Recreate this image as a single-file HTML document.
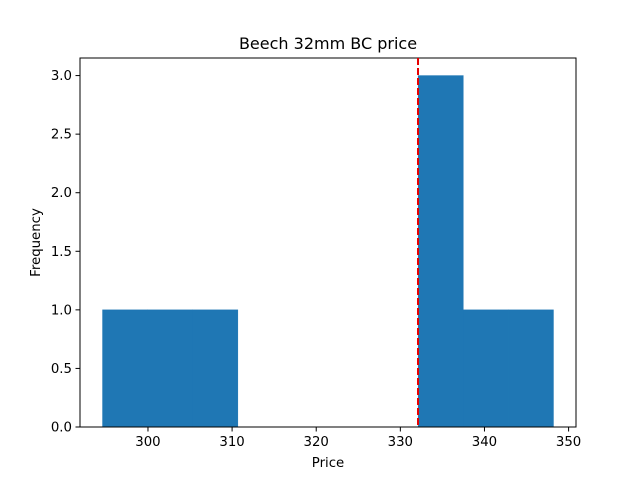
<!DOCTYPE html>
<html><head><meta charset="utf-8"><style>
body{margin:0;background:#fff;}
svg{display:block;font-family:"DejaVu Sans","Liberation Sans",sans-serif;}
</style></head><body>
<svg id="chart" width="640" height="480" viewBox="0 0 640 480">
<rect width="640" height="480" fill="#fff"/>
<text x="328" y="49" text-anchor="middle" font-size="16">Beech 32mm BC price</text>
<g id="bars"></g>
<g id="xt"></g><g id="yt"></g>
<rect x="80" y="58" width="496" height="369" fill="none" stroke="#000" stroke-width="1"/>
<line id="meanline" y1="58" y2="427" stroke="#e60000" stroke-width="2" stroke-dasharray="7,3"/>
<text x="328" y="467" text-anchor="middle" font-size="13.3">Price</text>
<text transform="translate(40,242.5) rotate(-90)" text-anchor="middle" font-size="13.3">Frequency</text>
</svg>
<script>
const binEdges=[294.6,299.96,305.32,310.68,316.04,321.4,326.76,332.12,337.48,342.84,348.2];
const counts=[1,1,1,0,0,0,0,3,1,1];
const xTicks=[300,310,320,330,340,350];
const yTicks=[0,0.5,1.0,1.5,2.0,2.5,3.0];
const meanValue=332.1;
const X0=291.92,X1=350.88,Y1=3.15;
const sx=v=>80+(v-X0)/(X1-X0)*496;
const sy=v=>427-v/Y1*369;
const NS="http://www.w3.org/2000/svg";
const bars=document.getElementById('bars');
counts.forEach((c,i)=>{if(!c)return;
 const r=document.createElementNS(NS,'rect');
 r.setAttribute('x',sx(binEdges[i]));r.setAttribute('width',sx(binEdges[i+1])-sx(binEdges[i]));
 r.setAttribute('y',sy(c));r.setAttribute('height',sy(0)-sy(c));r.setAttribute('fill','#1f77b4');
 r.setAttribute('stroke','#1f77b4');r.setAttribute('stroke-width','0.5');
 
 
 bars.appendChild(r);});
const xt=document.getElementById('xt');
xTicks.forEach(t=>{const x=sx(t);
 const l=document.createElementNS(NS,'line');l.setAttribute('x1',x);l.setAttribute('x2',x);l.setAttribute('y1',427);l.setAttribute('y2',431.5);l.setAttribute('stroke','#000');
 
 
 xt.appendChild(l);
 const tx=document.createElementNS(NS,'text');tx.setAttribute('x',x);tx.setAttribute('y',446);tx.setAttribute('text-anchor','middle');tx.setAttribute('font-size','13.3');tx.textContent=t;
 
 
 xt.appendChild(tx);});
const yt=document.getElementById('yt');
yTicks.forEach(t=>{const y=sy(t);
 const l=document.createElementNS(NS,'line');l.setAttribute('x1',75.5);l.setAttribute('x2',80);l.setAttribute('y1',y);l.setAttribute('y2',y);l.setAttribute('stroke','#000');
 
 
 yt.appendChild(l);
 const tx=document.createElementNS(NS,'text');tx.setAttribute('x',72);tx.setAttribute('y',y+4.5);tx.setAttribute('text-anchor','end');tx.setAttribute('font-size','13.3');tx.textContent=t.toFixed(1);
 
 
 yt.appendChild(tx);});
const m=document.getElementById('meanline');m.setAttribute('x1',sx(meanValue));m.setAttribute('x2',sx(meanValue));
</script>
</body></html>
